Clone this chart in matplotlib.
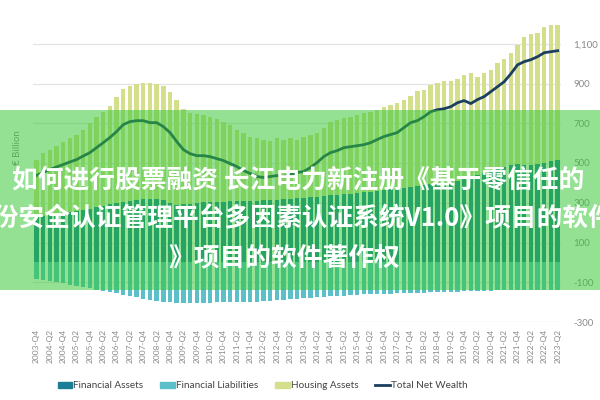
import matplotlib
matplotlib.use("Agg")
import matplotlib.pyplot as plt
from matplotlib.patches import Rectangle, Patch
from matplotlib.lines import Line2D
import numpy as np

# quarters 2003-Q4 .. 2023-Q2
quarters = []
y, q = 2003, 4
while (y, q) <= (2023, 2):
    quarters.append(f"{y}-Q{q}")
    q += 1
    if q > 4:
        q = 1
        y += 1

financial_assets = [
    230, 235, 240, 245, 250, 255, 260, 265, 270, 278,
    285, 292, 298, 305, 310, 315, 318, 320, 318, 312,
    300, 290, 292, 296, 300, 303, 305, 305, 306, 307,
    308, 309, 310, 311, 312, 314, 316, 318, 320, 322,
    325, 328, 331, 334, 337, 340, 343, 346, 349, 352,
    356, 360, 364, 368, 372, 376, 380, 384, 388, 392,
    396, 400, 404, 410, 420, 430, 440, 450, 460, 470,
    480, 490, 495, 490, 488, 495, 500, 510, 517]

housing_assets = [
    287, 317, 327, 342, 358, 373, 383, 403, 433, 455,
    473, 496, 536, 569, 579, 584, 586, 584, 581, 577,
    559, 529, 481, 457, 448, 440, 428, 418, 402, 386,
    360, 344, 323, 317, 306, 299, 312, 300, 308, 296,
    308, 315, 322, 344, 371, 378, 385, 387, 394, 401,
    402, 408, 419, 425, 431, 443, 459, 480, 481, 502,
    508, 514, 510, 514, 524, 524, 494, 504, 509, 534,
    545, 565, 600, 645, 662, 660, 685, 685, 678]

financial_liabilities = [
    -85, -90, -95, -100, -106, -112, -118, -124, -130, -137,
    -142, -148, -155, -162, -169, -176, -182, -188, -193, -197,
    -201, -203, -203, -203, -203, -202, -202, -201, -201, -201,
    -200, -199, -198, -197, -196, -194, -191, -188, -185, -182,
    -179, -177, -175, -173, -171, -169, -167, -165, -163, -161,
    -160, -159, -158, -157, -156, -155, -154, -153, -152, -151,
    -150, -149, -148, -147, -146, -145, -144, -143, -142, -141,
    -140, -139, -139, -138, -138, -137, -137, -137, -137]

total_net_wealth = [
    437, 452, 467, 480, 492, 505, 517, 535, 552, 577,
    602, 628, 658, 693, 708, 713, 713, 703, 703, 683,
    653, 608, 567, 547, 537, 537, 532, 522, 512, 497,
    482, 462, 447, 432, 427, 432, 437, 432, 442, 452,
    457, 477, 502, 532, 552, 562, 577, 582, 587, 592,
    602, 618, 633, 643, 653, 678, 703, 713, 733, 758,
    768, 773, 783, 803, 814, 799, 819, 834, 859, 884,
    909, 949, 994, 1010, 1020, 1035, 1055, 1060, 1065]

y_ticks = [-300, -100, 100, 300, 500, 700, 900, 1100]

C_FA = "#1b7d98"
C_FL = "#5cc0cb"
C_HA = "#d5df8b"
C_NW = "#1c3f60"

plt.rcParams['font.family'] = ['Lato', 'DejaVu Sans']

fig = plt.figure(figsize=(6, 4), dpi=100)
ax = fig.add_axes([33/600, 1 - 322/400, 528/600, 318/400])

x = np.arange(len(quarters))
w = 0.66
ax.bar(x, financial_assets, width=w, color=C_FA, zorder=2)
ax.bar(x, housing_assets, width=w, bottom=financial_assets, color=C_HA, zorder=2)
ax.bar(x, financial_liabilities, width=w, color=C_FL, zorder=2)
ax.plot(x, total_net_wealth, color=C_NW, lw=2.0, zorder=3)

ax.set_xlim(-0.5, len(quarters) - 0.5)
ax.set_ylim(-300, 1300)
ax.yaxis.tick_right()
ax.set_yticks(y_ticks)
ax.set_yticklabels([f"{v:,}" for v in y_ticks])
ax.tick_params(axis='y', length=0, pad=9, labelsize=7, labelcolor="#8a8a8a")
ax.set_xticks(x[::2])
ax.set_xticklabels(quarters[::2], rotation=90, fontsize=6, color="#8a8a8a")
ax.tick_params(axis='x', length=0, pad=5)
ax.grid(axis='y', color="#e3e3e3", lw=0.9, zorder=0)
for s in ax.spines.values():
    s.set_visible(False)

fig.text(17/600, 1 - 148/400, "€ Billion", rotation=90, ha='center', va='center',
         fontsize=7, color="#8a8a8a")

handles = [Patch(color=C_FA), Patch(color=C_FL), Patch(color=C_HA),
           Line2D([0], [0], color=C_NW, lw=2)]
labels = ["Financial Assets", "Financial Liabilities", "Housing Assets", "Total Net Wealth"]
fig.legend(handles, labels, loc='center', bbox_to_anchor=(0.4375, 1 - 386/400), ncol=4,
           frameon=False, fontsize=7.2, handlelength=1.45, handleheight=0.6,
           handletextpad=0.1, columnspacing=1.7, labelcolor="#444444")

# watermark overlay
fig.patches.append(Rectangle((0, 1 - 290/400), 1, 180/400, transform=fig.transFigure,
                             facecolor=(0.2, 0.78, 0.2), alpha=0.52, edgecolor='none',
                             zorder=10))
cjk = ['Noto Sans CJK SC', 'DejaVu Sans']
kw = dict(color='white', fontsize=18.5, fontweight='bold', family=cjk, va='center',
          ha='left', zorder=11)
fig.text(12/600, 1 - 180/400, "如何进行股票融资 长江电力新注册《基于零信任的", **kw)
fig.text(-32/600, 1 - 219/400, "身份安全认证管理平台多因素认证系统V1.0》项目的软件", **kw)
fig.text(168/600, 1 - 258/400, "》项目的软件著作权", **kw)

fig.savefig("out.png", dpi=100)
